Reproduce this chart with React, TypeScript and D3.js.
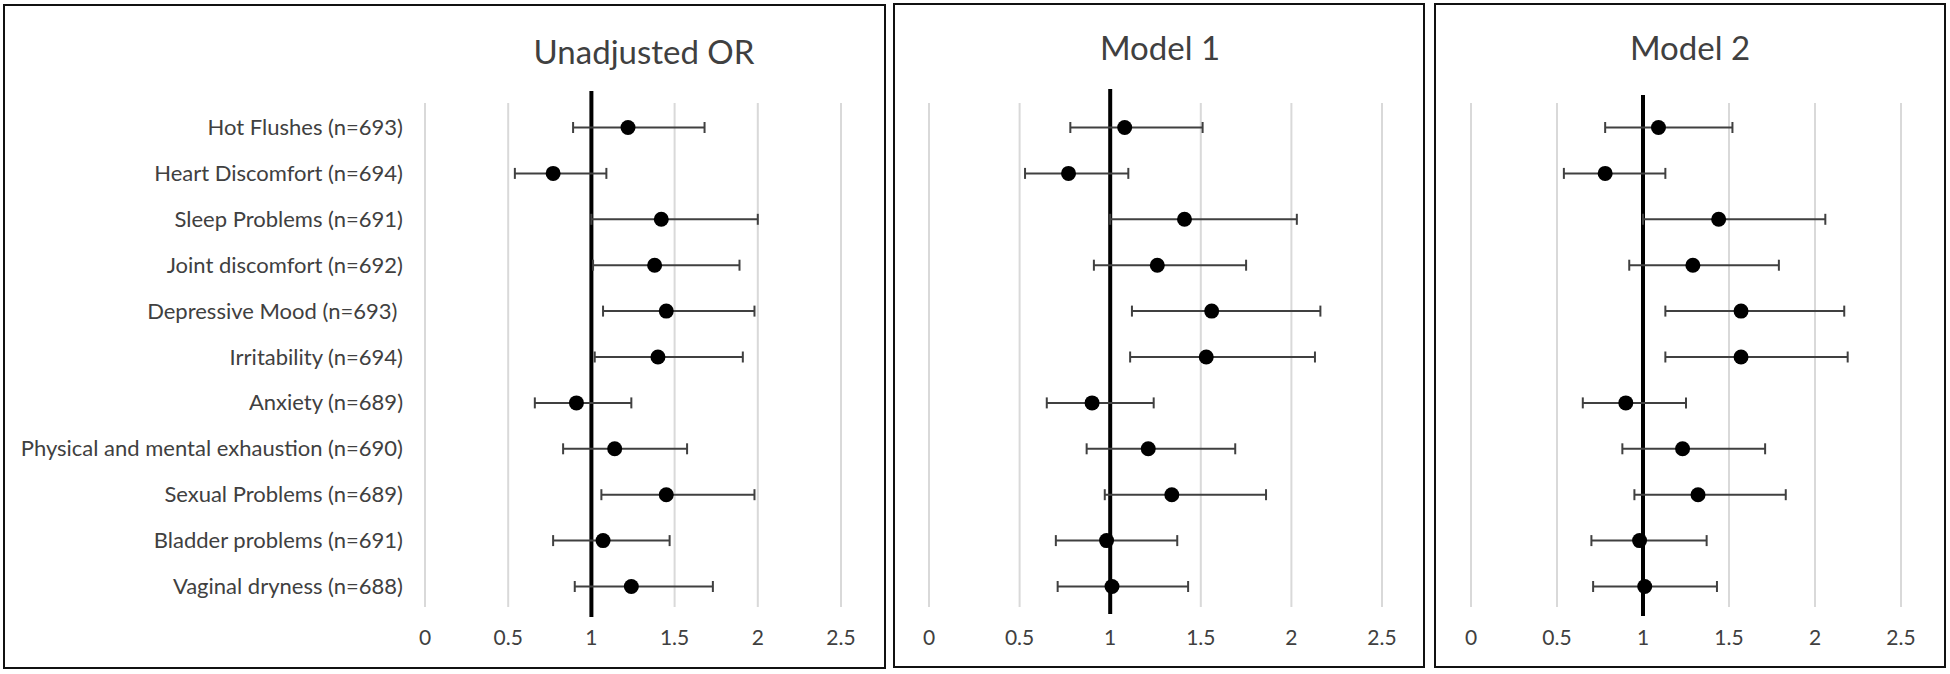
import React from "react";
import * as d3 from "d3";

const categories = [
  "Hot Flushes (n=693)",
  "Heart Discomfort (n=694)",
  "Sleep Problems (n=691)",
  "Joint discomfort (n=692)",
  "Depressive Mood (n=693) ",
  "Irritability (n=694)",
  "Anxiety (n=689)",
  "Physical and mental exhaustion (n=690)",
  "Sexual Problems (n=689)",
  "Bladder problems (n=691)",
  "Vaginal dryness (n=688)",
];

const tickValues = [0, 0.5, 1, 1.5, 2, 2.5];
const tickLabels = ["0", "0.5", "1", "1.5", "2", "2.5"];

const panelTitles = ["Unadjusted OR", "Model 1", "Model 2"];

// Unadjusted OR
const unadjOR = [1.22, 0.77, 1.42, 1.38, 1.45, 1.40, 0.91, 1.14, 1.45, 1.07, 1.24];
const unadjLo = [0.89, 0.54, 1.0, 1.01, 1.07, 1.02, 0.66, 0.83, 1.06, 0.77, 0.90];
const unadjHi = [1.68, 1.09, 2.0, 1.89, 1.98, 1.91, 1.24, 1.575, 1.98, 1.47, 1.73];

// Model 1
const m1OR = [1.08, 0.77, 1.41, 1.26, 1.56, 1.53, 0.90, 1.21, 1.34, 0.98, 1.01];
const m1Lo = [0.78, 0.53, 1.0, 0.91, 1.12, 1.11, 0.65, 0.87, 0.97, 0.70, 0.71];
const m1Hi = [1.51, 1.10, 2.03, 1.75, 2.16, 2.13, 1.24, 1.69, 1.86, 1.37, 1.43];

// Model 2
const m2OR = [1.09, 0.78, 1.44, 1.29, 1.57, 1.57, 0.90, 1.23, 1.32, 0.98, 1.01];
const m2Lo = [0.78, 0.54, 1.0, 0.92, 1.13, 1.13, 0.65, 0.88, 0.95, 0.70, 0.71];
const m2Hi = [1.52, 1.13, 2.06, 1.79, 2.17, 2.19, 1.25, 1.71, 1.83, 1.37, 1.43];

const seriesOR = [unadjOR, m1OR, m2OR];
const seriesLo = [unadjLo, m1Lo, m2Lo];
const seriesHi = [unadjHi, m1Hi, m2Hi];

const panels = [
  { box: [4, 5, 885, 668], x0: 425, x1: 841, titleX: 644, titleY: 64, refTop: 91, refBot: 617 },
  { box: [894, 4, 1424, 667], x0: 929, x1: 1382, titleX: 1160, titleY: 60, refTop: 89, refBot: 614 },
  { box: [1435, 4, 1945, 667], x0: 1471, x1: 1901, titleX: 1690, titleY: 60, refTop: 95, refBot: 616 },
];

const FONT = "Lato, 'Open Sans', sans-serif";
const TEXT = "#404040";

export default function App() {
  const y = d3.scalePoint<string>().domain(categories).range([127.5, 586.5]);
  const gridTop = 103;
  const gridBot = 607;
  const cap = 5.5;

  return (
    <svg
      width={1950}
      height={674}
      style={{ position: "absolute", left: 0, top: 0, background: "#fff" }}
      fontFamily={FONT}
    >
      <rect x={0} y={0} width={1950} height={674} fill="#fff" />
      {panels.map((p, pi) => {
        const x = d3.scaleLinear().domain([0, 2.5]).range([p.x0, p.x1]);
        const [bx0, by0, bx1, by1] = p.box;
        return (
          <g key={pi}>
            <rect x={bx0} y={by0} width={bx1 - bx0} height={by1 - by0} fill="#fff" stroke="#111" strokeWidth={2} />
            <text x={p.titleX} y={p.titleY} textAnchor="middle" fontSize={33} fill={TEXT}>
              {panelTitles[pi]}
            </text>
            {tickValues.map((t, ti) => (
              <g key={ti}>
                {t !== 1 && (
                  <line x1={x(t)} x2={x(t)} y1={gridTop} y2={gridBot} stroke="#d9d9d9" strokeWidth={2} />
                )}
                <text x={x(t)} y={645} textAnchor="middle" fontSize={21} fill={TEXT}>
                  {tickLabels[ti]}
                </text>
              </g>
            ))}
            <line x1={x(1)} x2={x(1)} y1={p.refTop} y2={p.refBot} stroke="#000" strokeWidth={4} />
            {pi === 0 &&
              categories.map((c) => (
                <text
                  key={c}
                  x={403}
                  y={(y(c) as number) + 7.5}
                  textAnchor="end"
                  fontSize={22}
                  fill={TEXT}
                  style={{ whiteSpace: "pre" }}
                >
                  {c}
                </text>
              ))}
            {categories.map((c, i) => {
              const cy = y(c) as number;
              const lo = x(seriesLo[pi][i]);
              const hi = x(seriesHi[pi][i]);
              return (
                <g key={c}>
                  <line x1={lo} x2={hi} y1={cy} y2={cy} stroke="#404040" strokeWidth={2} />
                  <line x1={lo} x2={lo} y1={cy - cap} y2={cy + cap} stroke="#404040" strokeWidth={2} />
                  <line x1={hi} x2={hi} y1={cy - cap} y2={cy + cap} stroke="#404040" strokeWidth={2} />
                  <circle cx={x(seriesOR[pi][i])} cy={cy} r={7.5} fill="#000" />
                </g>
              );
            })}
          </g>
        );
      })}
    </svg>
  );
}
